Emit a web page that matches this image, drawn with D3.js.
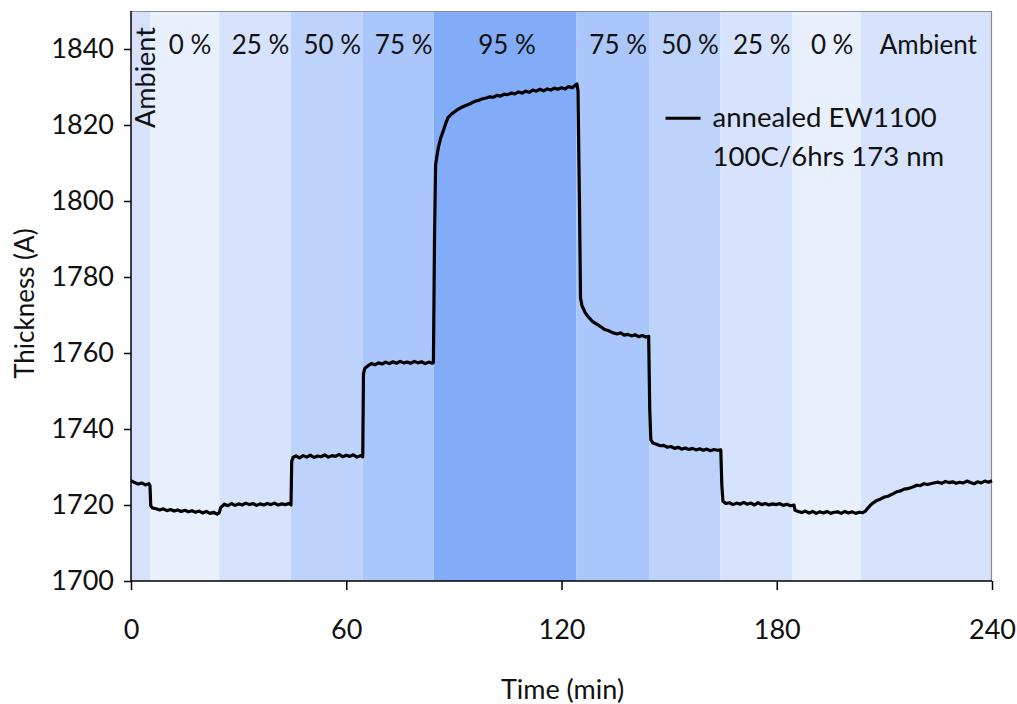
<!DOCTYPE html>
<html>
<head>
<meta charset="utf-8">
<script src="https://cdn.jsdelivr.net/npm/d3@7"></script>
<style>
  html, body { margin: 0; padding: 0; background: #fff; }
  svg { display: block; }
  text { font-family: Lato, "Open Sans", sans-serif; fill: #111; }
</style>
</head>
<body>
<svg id="chart" width="1017" height="704"></svg>
<script>
// Humidity steps (start/end in minutes) and their labels
const stepStart = [0, 5.3, 24.6, 44.6, 64.6, 84.4, 124.2, 144.4, 164.3, 184.4, 203.5];
const stepEnd   = [5.3, 24.6, 44.6, 64.6, 84.4, 124.2, 144.4, 164.3, 184.4, 203.5, 240];
const stepLabel = ["Ambient", "0 %", "25 %", "50 %", "75 %", "95 %", "75 %", "50 %", "25 %", "0 %", "Ambient"];
const stepColor = ["#d6e2fb", "#e9f0fd", "#d7e3fc", "#bed3fb", "#aac6fa", "#83acf8",
                   "#aac6fa", "#bed3fb", "#d7e3fc", "#e9f0fd", "#d7e3fc"];

// Measured film thickness (Å) against time (min)
const timeMin = [
  0, 1, 2, 3, 4, 5, 5.3,
  5.5, 6, 7, 8, 9, 10, 11, 12, 13, 14, 15, 16, 17, 18, 19, 20, 21, 22, 23, 24, 24.6,
  25, 26, 27, 28, 29, 30, 31, 32, 33, 34, 35, 36, 37, 38, 39, 40, 41, 42, 43, 44, 44.6,
  44.8, 45.2, 46, 47, 48, 49, 50, 51, 52, 53, 54, 55, 56, 57, 58, 59, 60, 61, 62, 63, 64, 64.6,
  64.8, 65.2, 66, 67, 68, 69, 70, 71, 72, 73, 74, 75, 76, 77, 78, 79, 80, 81, 82, 83, 84, 84.3,
  84.6, 84.9, 85.3, 85.7, 86.3, 87.1, 87.8, 88.4, 89.5, 90.8, 92, 93, 94.5, 96, 97, 98, 99, 100,
  101, 102, 103, 104, 105, 106, 107, 108, 109, 110, 111, 112, 113, 114, 115, 116, 117, 118, 119,
  120, 121, 122, 123, 124, 124.3,
  124.6, 125.0, 125.3, 125.7, 126.6, 127.5, 128.5, 129.8, 131, 132, 133, 134.4, 135.5, 136.5,
  137.5, 138.5, 139.5, 140.5, 141.5, 142.5, 143.5, 144.3,
  144.6, 144.9, 145.5, 146.5, 147.5, 148.5, 149.5, 150.5, 151.5, 152.5, 153.5, 154.5, 155.5,
  156.5, 157.5, 158.5, 159.5, 160.5, 161.5, 162.5, 163.5, 164.4,
  164.7, 165.0, 165.8, 166.8, 167.8, 168.8, 169.8, 170.8, 171.8, 172.8, 173.8, 174.8, 175.8,
  176.8, 177.8, 178.8, 179.8, 180.8, 181.8, 182.8, 183.8, 184.8,
  185.1, 186, 187, 188, 189, 190, 191, 192, 193, 194, 195, 196, 197, 198, 199, 200, 201, 202,
  203, 204, 204.6,
  205.5, 206.5, 207.9, 209, 210, 211, 212.5, 213.5, 214.5, 215.5, 216.5, 218.1, 219, 220, 221,
  222, 223.7, 225, 226, 227, 228, 229, 230, 231, 232, 233, 234, 235, 236, 237, 238, 239, 240
];
const thickness = [
  1726.4, 1725.9, 1725.5, 1725.8, 1725.3, 1725.6, 1725.0,
  1719.8, 1719.2, 1719.0, 1718.7, 1719.0, 1718.5, 1718.8, 1718.4, 1718.7, 1718.3, 1718.6, 1718.2,
  1718.5, 1718.1, 1718.4, 1717.9, 1718.3, 1717.8, 1718.1, 1717.6, 1718.0,
  1719.3, 1720.2, 1719.8, 1720.4, 1719.9, 1720.3, 1720.0, 1720.5, 1720.1, 1720.4, 1719.9, 1720.3,
  1720.0, 1720.4, 1720.1, 1720.5, 1720.0, 1720.3, 1720.1, 1720.4, 1720.0,
  1731.5, 1732.6, 1732.9, 1732.4, 1733.0, 1732.6, 1733.1, 1732.5, 1732.9, 1732.7, 1733.2, 1732.6,
  1733.0, 1732.8, 1733.3, 1732.7, 1733.1, 1732.8, 1733.2, 1732.6, 1733.0, 1732.7,
  1754.5, 1756.0, 1756.6, 1757.2, 1756.9, 1757.4, 1757.1, 1757.6, 1757.2, 1757.7, 1757.3, 1757.8,
  1757.4, 1757.6, 1757.3, 1757.8, 1757.4, 1757.7, 1757.2, 1757.6, 1757.3, 1757.5,
  1790.0, 1809.5, 1812.0, 1814.2, 1816.5, 1818.6, 1820.6, 1822.0, 1823.0, 1823.9, 1824.6, 1825.0,
  1825.6, 1826.3, 1826.5, 1826.9, 1827.1, 1827.4,
  1827.3, 1827.8, 1827.6, 1828.1, 1828.0, 1828.4, 1828.2, 1828.7, 1828.4, 1828.9, 1828.6, 1829.2,
  1828.9, 1829.4, 1829.0, 1829.5, 1829.2, 1829.7, 1829.4,
  1829.8, 1829.5, 1830.1, 1829.8, 1830.6, 1830.8,
  1829.0, 1800.0, 1774.5, 1772.5, 1770.6, 1769.5, 1768.4, 1767.6, 1766.9, 1766.2, 1765.9, 1765.3,
  1765.0, 1765.3, 1764.7, 1764.9, 1764.5, 1764.8, 1764.3, 1764.6, 1764.2, 1764.4,
  1745.0, 1737.2, 1736.3, 1736.0, 1735.6, 1735.7, 1735.2, 1735.4, 1734.9, 1735.2, 1734.7, 1735.0,
  1734.6, 1734.9, 1734.5, 1734.8, 1734.4, 1734.7, 1734.3, 1734.6, 1734.4, 1734.5,
  1725.0, 1721.0, 1720.4, 1720.6, 1720.1, 1720.5, 1720.2, 1720.7, 1720.2, 1720.5, 1720.0, 1720.6,
  1720.1, 1720.4, 1720.0, 1720.3, 1720.1, 1720.4, 1719.9, 1720.2, 1719.8, 1720.0,
  1718.6, 1718.3, 1718.0, 1718.4, 1717.9, 1718.3, 1717.8, 1718.2, 1717.9, 1718.3, 1717.8, 1718.1,
  1718.2, 1717.8, 1718.3, 1717.9, 1718.2, 1717.8, 1718.1, 1718.0, 1718.3,
  1719.3, 1720.3, 1721.2, 1721.6, 1722.1, 1722.3, 1723.0, 1723.5, 1723.7, 1724.2, 1724.3, 1724.8,
  1725.2, 1725.1, 1725.6, 1725.4, 1725.8, 1726.0, 1725.7, 1726.2, 1725.9, 1726.1, 1725.7, 1726.0,
  1725.8, 1726.3, 1725.9, 1725.6, 1726.1, 1725.8, 1726.3, 1726.0, 1726.4
];

const yTicks = [1700, 1720, 1740, 1760, 1780, 1800, 1820, 1840];
const xTicks = [0, 60, 120, 180, 240];
const seriesName = ["annealed EW1100", "100C/6hrs 173 nm"];

const W = 1017, H = 704;
const margin = { left: 131, right: 25, top: 11, bottom: 123 };
const iw = W - margin.left - margin.right;
const ih = H - margin.top - margin.bottom;

const svg = d3.select("#chart");
const g = svg.append("g").attr("transform", `translate(${margin.left},${margin.top})`);

const x = d3.scaleLinear().domain([0, 240]).range([0, iw]);
const y = d3.scaleLinear().domain([1700, 1850]).range([ih, 0]);

// shaded humidity bands
const steps = stepStart.map((s, i) => ({ s, e: stepEnd[i], label: stepLabel[i], color: stepColor[i] }));
g.selectAll("rect.band").data(steps).join("rect")
  .attr("class", "band")
  .attr("x", d => x(d.s))
  .attr("y", 0)
  .attr("width", d => x(d.e) - x(d.s))
  .attr("height", ih)
  .attr("fill", d => d.color);

// plot frame (top and right)
g.append("path")
  .attr("d", `M0,0.5H${iw - 0.5}V${ih}`)
  .attr("fill", "none")
  .attr("stroke", "#8c8c8c")
  .attr("stroke-width", 1.2);

// band labels
steps.forEach((d, i) => {
  if (i === 0) {
    g.append("text")
      .attr("transform", `translate(${x((d.s + d.e) / 2) + 14.5},${y(1832.5)}) rotate(-90)`)
      .attr("text-anchor", "middle")
      .style("font-size", "27px")
      .text(d.label);
  } else {
    const off = (i === 5 || i === 10) ? 0.5 : 1.5;
    g.append("text")
      .attr("x", x((d.s + d.e) / 2 + off))
      .attr("y", y(1840.4))
      .attr("text-anchor", "middle")
      .attr("dominant-baseline", "middle")
      .style("font-size", "26px")
      .text(d.label);
  }
});

// thickness trace
const pts = timeMin.map((t, i) => [t, thickness[i]]);
g.append("path")
  .datum(pts)
  .attr("fill", "none")
  .attr("stroke", "#000")
  .attr("stroke-width", 3.2)
  .attr("stroke-linejoin", "round")
  .attr("d", d3.line().x(d => x(d[0])).y(d => y(d[1])));

// axes
const yAxis = d3.axisLeft(y).tickValues(yTicks).tickSize(7).tickPadding(10).tickFormat(d3.format("d"));
const ya = g.append("g").call(yAxis);
ya.select(".domain").attr("d", `M0,${ih}V0`).attr("stroke", "#000").attr("stroke-width", 1.5);
ya.selectAll(".tick line").attr("stroke", "#000").attr("stroke-width", 1.5);
ya.selectAll(".tick text").style("font-size", "27px").style("font-family", "Lato, sans-serif").attr("fill", "#111");

const xAxis = d3.axisBottom(x).tickValues(xTicks).tickSize(9).tickPadding(30);
const xa = g.append("g").attr("transform", `translate(0,${ih})`).call(xAxis);
xa.select(".domain").attr("d", `M0,0H${iw}`).attr("stroke", "#000").attr("stroke-width", 1.5);
xa.selectAll(".tick line").attr("stroke", "#000").attr("stroke-width", 1.5);
xa.selectAll(".tick text").style("font-size", "27px").style("font-family", "Lato, sans-serif").attr("fill", "#111");

// axis titles
svg.append("text")
  .attr("x", margin.left + x(120) + 1)
  .attr("y", 699)
  .attr("text-anchor", "middle")
  .style("font-size", "27px")
  .text("Time (min)");
svg.append("text")
  .attr("transform", `translate(34,${margin.top + y(1773)}) rotate(-90)`)
  .attr("text-anchor", "middle")
  .style("font-size", "26px")
  .text("Thickness (A)");

// legend
const lg = g.append("g").attr("transform", `translate(${x(149)},${y(1821.8)})`);
lg.append("line").attr("x1", 0).attr("x2", 35).attr("y1", 0).attr("y2", 0)
  .attr("stroke", "#000").attr("stroke-width", 3);
lg.append("text").attr("x", 47).attr("y", 2).attr("dominant-baseline", "middle")
  .style("font-size", "27.5px").text(seriesName[0]);
lg.append("text").attr("x", 47).attr("y", 41).attr("dominant-baseline", "middle")
  .style("font-size", "27.5px").text(seriesName[1]);
</script>
</body>
</html>
